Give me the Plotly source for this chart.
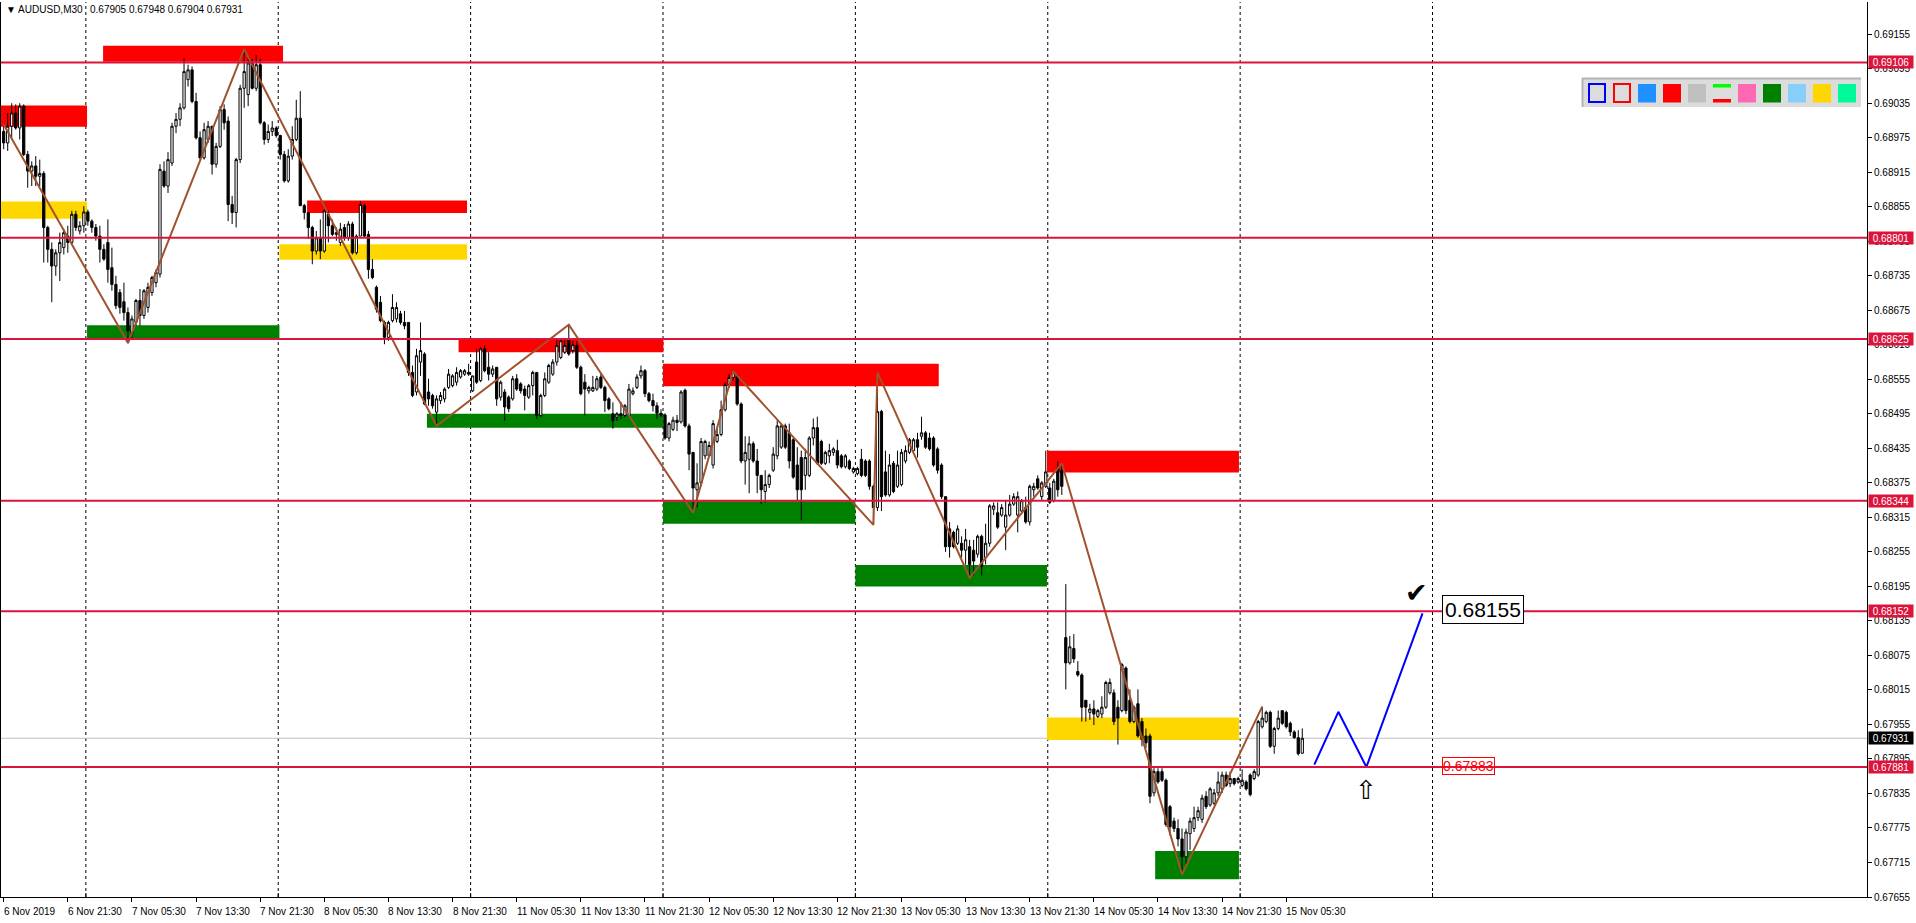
import plotly.graph_objects as go

# ---------------- data ----------------
SYMBOL = "AUDUSD,M30"
OPEN = [
    0.68986, 0.68966, 0.68995, 0.69018, 0.68992, 0.69030, 0.68946, 0.68917, 0.68926, 0.68908,
    0.68913, 0.68819, 0.68781, 0.68752, 0.68775, 0.68784, 0.68804, 0.68793, 0.68842, 0.68813,
    0.68822, 0.68846, 0.68830, 0.68819, 0.68804, 0.68781, 0.68793, 0.68749, 0.68720, 0.68706,
    0.68690, 0.68671, 0.68634, 0.68654, 0.68692, 0.68666, 0.68680, 0.68706, 0.68723, 0.68738,
    0.68917, 0.68891, 0.68931, 0.68995, 0.69007, 0.69027, 0.69076, 0.69093, 0.69038, 0.68975,
    0.68940, 0.68972, 0.68995, 0.68929, 0.68960, 0.69024, 0.69004, 0.68859, 0.68845, 0.68937,
    0.69061, 0.69050, 0.69105, 0.69061, 0.69102, 0.69001, 0.68972, 0.68986, 0.68992, 0.68979,
    0.68946, 0.68900, 0.68943, 0.68972, 0.69009, 0.68857, 0.68845, 0.68819, 0.68778, 0.68801,
    0.68778, 0.68842, 0.68822, 0.68807, 0.68793, 0.68819, 0.68801, 0.68825, 0.68775, 0.68804,
    0.68857, 0.68807, 0.68746, 0.68715, 0.68689, 0.68654, 0.68628, 0.68657, 0.68660, 0.68669,
    0.68654, 0.68654, 0.68567, 0.68533, 0.68585, 0.68599, 0.68533, 0.68527, 0.68498, 0.68518,
    0.68521, 0.68541, 0.68544, 0.68550, 0.68559, 0.68564, 0.68567, 0.68535, 0.68585, 0.68553,
    0.68608, 0.68576, 0.68564, 0.68576, 0.68524, 0.68533, 0.68524, 0.68521, 0.68556, 0.68547,
    0.68538, 0.68524, 0.68544, 0.68567, 0.68492, 0.68527, 0.68550, 0.68564, 0.68585, 0.68593,
    0.68602, 0.68625, 0.68605, 0.68614, 0.68576, 0.68550, 0.68535, 0.68535, 0.68538, 0.68559,
    0.68541, 0.68521, 0.68495, 0.68489, 0.68495, 0.68492, 0.68492, 0.68530, 0.68541, 0.68561,
    0.68570, 0.68530, 0.68518, 0.68509, 0.68496, 0.68493, 0.68453, 0.68468, 0.68484, 0.68481,
    0.68536, 0.68474, 0.68428, 0.68363, 0.68375, 0.68422, 0.68422, 0.68406, 0.68447, 0.68459,
    0.68502, 0.68546, 0.68558, 0.68561, 0.68512, 0.68413, 0.68416, 0.68443, 0.68413, 0.68388,
    0.68360, 0.68372, 0.68397, 0.68422, 0.68437, 0.68474, 0.68462, 0.68450, 0.68406, 0.68419,
    0.68388, 0.68388, 0.68453, 0.68471, 0.68447, 0.68409, 0.68422, 0.68428, 0.68431, 0.68422,
    0.68403, 0.68413, 0.68394, 0.68391, 0.68416, 0.68413, 0.68413, 0.68369, 0.68332, 0.68499,
    0.68394, 0.68354, 0.68409, 0.68369, 0.68372, 0.68413, 0.68428, 0.68431, 0.68450, 0.68456,
    0.68462, 0.68453, 0.68453, 0.68434, 0.68406, 0.68351, 0.68295, 0.68289, 0.68270, 0.68270,
    0.68258, 0.68264, 0.68258, 0.68251, 0.68282, 0.68245, 0.68270, 0.68329, 0.68323, 0.68319,
    0.68298, 0.68319, 0.68338, 0.68319, 0.68326, 0.68332, 0.68307, 0.68363, 0.68382, 0.68351,
    0.68369, 0.68366, 0.68344, 0.68400, 0.68397, 0.68106, 0.68062, 0.68087, 0.68047, 0.68041,
    0.67997, 0.67976, 0.67982, 0.67969, 0.67973, 0.67985, 0.68010, 0.68010, 0.67985, 0.67979,
    0.68053, 0.67997, 0.67960, 0.67991, 0.67960, 0.67935, 0.67935, 0.67836, 0.67873, 0.67873,
    0.67858, 0.67812, 0.67787, 0.67774, 0.67756, 0.67725, 0.67765, 0.67774, 0.67793, 0.67790,
    0.67830, 0.67815, 0.67818, 0.67836, 0.67843, 0.67867, 0.67852, 0.67861, 0.67855, 0.67849,
    0.67855, 0.67867, 0.67861, 0.67867, 0.67951, 0.67960, 0.67976, 0.67917, 0.67948, 0.67979,
    0.67976, 0.67957, 0.67942, 0.67932, 0.67905,
]
HIGH = [
    0.68995, 0.69018, 0.69035, 0.69033, 0.69035, 0.69033, 0.68952, 0.68934, 0.68943, 0.68937,
    0.68917, 0.68822, 0.68793, 0.68781, 0.68810, 0.68816, 0.68822, 0.68848, 0.68848, 0.68830,
    0.68856, 0.68850, 0.68833, 0.68825, 0.68822, 0.68790, 0.68833, 0.68784, 0.68735, 0.68712,
    0.68723, 0.68680, 0.68666, 0.68695, 0.68712, 0.68712, 0.68723, 0.68735, 0.68746, 0.68929,
    0.68934, 0.68950, 0.69001, 0.69018, 0.69035, 0.69114, 0.69102, 0.69099, 0.69053, 0.68986,
    0.69001, 0.69004, 0.68995, 0.68966, 0.69030, 0.69033, 0.69012, 0.68874, 0.68940, 0.69067,
    0.69129, 0.69114, 0.69112, 0.69119, 0.69112, 0.69004, 0.68998, 0.69004, 0.68995, 0.68980,
    0.68952, 0.68955, 0.68995, 0.69041, 0.69056, 0.68860, 0.68845, 0.68822, 0.68813, 0.68833,
    0.68850, 0.68848, 0.68833, 0.68819, 0.68827, 0.68825, 0.68830, 0.68829, 0.68807, 0.68865,
    0.68860, 0.68813, 0.68764, 0.68718, 0.68700, 0.68657, 0.68657, 0.68703, 0.68689, 0.68674,
    0.68674, 0.68654, 0.68579, 0.68608, 0.68654, 0.68602, 0.68556, 0.68530, 0.68527, 0.68533,
    0.68541, 0.68573, 0.68564, 0.68576, 0.68573, 0.68573, 0.68582, 0.68561, 0.68608, 0.68611,
    0.68614, 0.68602, 0.68579, 0.68576, 0.68553, 0.68538, 0.68527, 0.68561, 0.68564, 0.68550,
    0.68544, 0.68547, 0.68570, 0.68567, 0.68530, 0.68567, 0.68582, 0.68590, 0.68625, 0.68625,
    0.68625, 0.68650, 0.68622, 0.68622, 0.68579, 0.68564, 0.68544, 0.68561, 0.68561, 0.68564,
    0.68544, 0.68524, 0.68515, 0.68498, 0.68515, 0.68512, 0.68547, 0.68541, 0.68564, 0.68579,
    0.68573, 0.68533, 0.68530, 0.68515, 0.68503, 0.68496, 0.68481, 0.68490, 0.68493, 0.68536,
    0.68539, 0.68478, 0.68428, 0.68409, 0.68453, 0.68450, 0.68447, 0.68484, 0.68471, 0.68518,
    0.68549, 0.68564, 0.68569, 0.68564, 0.68515, 0.68456, 0.68456, 0.68447, 0.68434, 0.68388,
    0.68397, 0.68391, 0.68437, 0.68484, 0.68478, 0.68478, 0.68478, 0.68453, 0.68437, 0.68431,
    0.68434, 0.68456, 0.68487, 0.68490, 0.68450, 0.68431, 0.68443, 0.68437, 0.68450, 0.68425,
    0.68425, 0.68416, 0.68403, 0.68403, 0.68434, 0.68416, 0.68416, 0.68372, 0.68567, 0.68502,
    0.68431, 0.68425, 0.68413, 0.68431, 0.68434, 0.68440, 0.68453, 0.68453, 0.68462, 0.68490,
    0.68465, 0.68462, 0.68456, 0.68437, 0.68409, 0.68351, 0.68307, 0.68292, 0.68301, 0.68282,
    0.68295, 0.68276, 0.68276, 0.68285, 0.68285, 0.68304, 0.68338, 0.68341, 0.68341, 0.68338,
    0.68344, 0.68354, 0.68357, 0.68360, 0.68347, 0.68351, 0.68372, 0.68375, 0.68388, 0.68378,
    0.68431, 0.68375, 0.68382, 0.68413, 0.68409, 0.68199, 0.68109, 0.68112, 0.68065, 0.68044,
    0.67997, 0.67991, 0.67997, 0.67982, 0.68004, 0.68031, 0.68035, 0.68016, 0.67997, 0.68062,
    0.68056, 0.68016, 0.67988, 0.68016, 0.67966, 0.67948, 0.67939, 0.67879, 0.67879, 0.67879,
    0.67861, 0.67815, 0.67793, 0.67790, 0.67774, 0.67774, 0.67793, 0.67812, 0.67812, 0.67833,
    0.67839, 0.67846, 0.67843, 0.67873, 0.67873, 0.67873, 0.67873, 0.67861, 0.67864, 0.67877,
    0.67858, 0.67870, 0.67877, 0.67963, 0.67986, 0.67979, 0.67979, 0.67951, 0.67979, 0.67979,
    0.67979, 0.67960, 0.67945, 0.67945, 0.67948,
]
LOW = [
    0.68955, 0.68952, 0.68972, 0.68989, 0.68972, 0.68943, 0.68888, 0.68891, 0.68891, 0.68891,
    0.68758, 0.68758, 0.68689, 0.68735, 0.68726, 0.68772, 0.68775, 0.68790, 0.68813, 0.68807,
    0.68810, 0.68822, 0.68810, 0.68796, 0.68758, 0.68761, 0.68723, 0.68709, 0.68677, 0.68669,
    0.68657, 0.68618, 0.68625, 0.68648, 0.68648, 0.68660, 0.68671, 0.68700, 0.68715, 0.68732,
    0.68888, 0.68879, 0.68926, 0.68983, 0.68995, 0.69024, 0.69064, 0.69035, 0.68972, 0.68937,
    0.68937, 0.68966, 0.68911, 0.68923, 0.68957, 0.68989, 0.68830, 0.68825, 0.68819, 0.68931,
    0.69027, 0.69030, 0.69059, 0.69056, 0.68998, 0.68963, 0.68966, 0.68978, 0.68975, 0.68937,
    0.68897, 0.68897, 0.68937, 0.68969, 0.68856, 0.68833, 0.68799, 0.68755, 0.68772, 0.68764,
    0.68775, 0.68793, 0.68804, 0.68796, 0.68787, 0.68796, 0.68796, 0.68772, 0.68772, 0.68804,
    0.68801, 0.68730, 0.68729, 0.68671, 0.68654, 0.68616, 0.68622, 0.68654, 0.68654, 0.68650,
    0.68642, 0.68561, 0.68524, 0.68527, 0.68561, 0.68510, 0.68509, 0.68504, 0.68474, 0.68512,
    0.68515, 0.68538, 0.68541, 0.68544, 0.68556, 0.68561, 0.68561, 0.68533, 0.68547, 0.68550,
    0.68567, 0.68553, 0.68559, 0.68509, 0.68518, 0.68483, 0.68498, 0.68518, 0.68535, 0.68530,
    0.68501, 0.68521, 0.68527, 0.68486, 0.68489, 0.68524, 0.68547, 0.68561, 0.68579, 0.68590,
    0.68599, 0.68596, 0.68600, 0.68573, 0.68527, 0.68492, 0.68530, 0.68533, 0.68535, 0.68538,
    0.68498, 0.68501, 0.68469, 0.68483, 0.68486, 0.68489, 0.68489, 0.68527, 0.68538, 0.68556,
    0.68524, 0.68515, 0.68499, 0.68486, 0.68489, 0.68450, 0.68447, 0.68465, 0.68465, 0.68478,
    0.68471, 0.68397, 0.68323, 0.68332, 0.68369, 0.68416, 0.68419, 0.68400, 0.68444, 0.68456,
    0.68499, 0.68540, 0.68553, 0.68509, 0.68409, 0.68372, 0.68357, 0.68410, 0.68357, 0.68338,
    0.68341, 0.68366, 0.68394, 0.68416, 0.68434, 0.68434, 0.68400, 0.68382, 0.68344, 0.68310,
    0.68363, 0.68385, 0.68440, 0.68406, 0.68406, 0.68406, 0.68409, 0.68422, 0.68400, 0.68400,
    0.68400, 0.68397, 0.68391, 0.68388, 0.68385, 0.68385, 0.68363, 0.68302, 0.68326, 0.68326,
    0.68351, 0.68351, 0.68357, 0.68366, 0.68369, 0.68409, 0.68425, 0.68428, 0.68419, 0.68450,
    0.68434, 0.68431, 0.68403, 0.68391, 0.68347, 0.68255, 0.68245, 0.68261, 0.68267, 0.68245,
    0.68233, 0.68210, 0.68214, 0.68245, 0.68214, 0.68233, 0.68264, 0.68319, 0.68295, 0.68316,
    0.68258, 0.68316, 0.68335, 0.68289, 0.68323, 0.68304, 0.68301, 0.68351, 0.68363, 0.68344,
    0.68366, 0.68338, 0.68341, 0.68351, 0.68354, 0.68016, 0.68059, 0.68062, 0.68038, 0.67960,
    0.67960, 0.67963, 0.67954, 0.67966, 0.67966, 0.67982, 0.68007, 0.67954, 0.67920, 0.67976,
    0.67973, 0.67957, 0.67957, 0.67932, 0.67917, 0.67914, 0.67818, 0.67830, 0.67852, 0.67855,
    0.67777, 0.67762, 0.67768, 0.67743, 0.67694, 0.67712, 0.67737, 0.67768, 0.67787, 0.67784,
    0.67808, 0.67812, 0.67815, 0.67830, 0.67836, 0.67846, 0.67846, 0.67849, 0.67852, 0.67846,
    0.67840, 0.67830, 0.67858, 0.67864, 0.67948, 0.67957, 0.67914, 0.67904, 0.67945, 0.67954,
    0.67948, 0.67935, 0.67930, 0.67901, 0.67904,
]
CLOSE = [
    0.68966, 0.68995, 0.69018, 0.68992, 0.69030, 0.68946, 0.68917, 0.68926, 0.68908, 0.68913,
    0.68819, 0.68781, 0.68752, 0.68775, 0.68793, 0.68810, 0.68793, 0.68842, 0.68819, 0.68822,
    0.68846, 0.68830, 0.68819, 0.68804, 0.68781, 0.68764, 0.68746, 0.68720, 0.68683, 0.68680,
    0.68671, 0.68639, 0.68660, 0.68692, 0.68666, 0.68709, 0.68715, 0.68732, 0.68741, 0.68920,
    0.68891, 0.68937, 0.68995, 0.69007, 0.69027, 0.69090, 0.69093, 0.69038, 0.68975, 0.68940,
    0.68989, 0.68995, 0.68929, 0.68960, 0.69024, 0.69001, 0.68859, 0.68845, 0.68937, 0.69061,
    0.69090, 0.69105, 0.69061, 0.69102, 0.69001, 0.68972, 0.68986, 0.68992, 0.68979, 0.68946,
    0.68900, 0.68943, 0.68972, 0.69009, 0.68857, 0.68845, 0.68819, 0.68778, 0.68801, 0.68778,
    0.68848, 0.68822, 0.68807, 0.68810, 0.68816, 0.68801, 0.68825, 0.68775, 0.68804, 0.68859,
    0.68804, 0.68746, 0.68732, 0.68677, 0.68657, 0.68628, 0.68654, 0.68680, 0.68680, 0.68654,
    0.68648, 0.68567, 0.68527, 0.68596, 0.68605, 0.68512, 0.68521, 0.68509, 0.68521, 0.68527,
    0.68538, 0.68564, 0.68561, 0.68567, 0.68570, 0.68570, 0.68564, 0.68561, 0.68550, 0.68608,
    0.68570, 0.68564, 0.68573, 0.68521, 0.68550, 0.68507, 0.68504, 0.68556, 0.68538, 0.68535,
    0.68527, 0.68544, 0.68567, 0.68492, 0.68527, 0.68556, 0.68579, 0.68585, 0.68614, 0.68622,
    0.68614, 0.68599, 0.68615, 0.68576, 0.68530, 0.68538, 0.68541, 0.68541, 0.68556, 0.68541,
    0.68518, 0.68504, 0.68483, 0.68495, 0.68492, 0.68509, 0.68538, 0.68535, 0.68559, 0.68570,
    0.68530, 0.68518, 0.68509, 0.68496, 0.68493, 0.68453, 0.68478, 0.68484, 0.68480, 0.68533,
    0.68474, 0.68425, 0.68366, 0.68375, 0.68447, 0.68447, 0.68440, 0.68478, 0.68459, 0.68502,
    0.68546, 0.68558, 0.68567, 0.68512, 0.68413, 0.68428, 0.68443, 0.68413, 0.68388, 0.68363,
    0.68372, 0.68388, 0.68425, 0.68474, 0.68474, 0.68437, 0.68413, 0.68385, 0.68363, 0.68363,
    0.68419, 0.68453, 0.68471, 0.68409, 0.68409, 0.68428, 0.68431, 0.68434, 0.68406, 0.68403,
    0.68422, 0.68400, 0.68400, 0.68400, 0.68388, 0.68388, 0.68369, 0.68332, 0.68499, 0.68351,
    0.68354, 0.68406, 0.68360, 0.68406, 0.68428, 0.68431, 0.68450, 0.68450, 0.68437, 0.68462,
    0.68437, 0.68434, 0.68406, 0.68397, 0.68351, 0.68264, 0.68264, 0.68264, 0.68295, 0.68258,
    0.68276, 0.68233, 0.68239, 0.68282, 0.68230, 0.68270, 0.68335, 0.68335, 0.68298, 0.68332,
    0.68319, 0.68338, 0.68351, 0.68351, 0.68344, 0.68307, 0.68369, 0.68369, 0.68366, 0.68375,
    0.68394, 0.68341, 0.68378, 0.68363, 0.68369, 0.68062, 0.68090, 0.68069, 0.68041, 0.67985,
    0.67985, 0.67982, 0.67973, 0.67979, 0.67985, 0.68028, 0.68028, 0.67960, 0.67966, 0.68059,
    0.67979, 0.67960, 0.67985, 0.67935, 0.67929, 0.67923, 0.67830, 0.67873, 0.67855, 0.67858,
    0.67781, 0.67777, 0.67774, 0.67756, 0.67725, 0.67768, 0.67787, 0.67793, 0.67805, 0.67827,
    0.67812, 0.67843, 0.67836, 0.67855, 0.67867, 0.67849, 0.67861, 0.67852, 0.67861, 0.67858,
    0.67843, 0.67833, 0.67873, 0.67960, 0.67966, 0.67976, 0.67917, 0.67948, 0.67966, 0.67957,
    0.67951, 0.67942, 0.67932, 0.67904, 0.67931,
]
BAR_INDEX = list(range(len(CLOSE)))

# time-axis labels (bar index -> text)
LABEL_IDX = [0, 16, 32, 48, 64, 80, 96, 112, 128, 144, 160, 176, 192, 208, 224, 240, 256, 272, 288, 304, 320]
LABEL_TEXT = ["6 Nov 2019", "6 Nov 21:30", "7 Nov 05:30", "7 Nov 13:30", "7 Nov 21:30",
              "8 Nov 05:30", "8 Nov 13:30", "8 Nov 21:30", "11 Nov 05:30", "11 Nov 13:30",
              "11 Nov 21:30", "12 Nov 05:30", "12 Nov 13:30", "12 Nov 21:30", "13 Nov 05:30",
              "13 Nov 13:30", "13 Nov 21:30", "14 Nov 05:30", "14 Nov 13:30", "14 Nov 21:30",
              "15 Nov 05:30"]
DAY_SEPARATORS = [20.5, 68.5, 116.5, 164.5, 212.5, 260.5, 308.5, 356.5]

# price axis
PRICE_TICKS = [0.67655 + 0.0006 * k for k in range(26)]
LEVELS = [0.69106, 0.68801, 0.68625, 0.68344, 0.68152, 0.67881]
BID = 0.67931
HEADER_OHLC = "0.67905 0.67948 0.67904 0.67931"

# zones: start bar, end bar, low, high, kind
ZONE_X0 = [-0.7, 24.8, -0.7, 20.8, 75.7, 68.8, 113.5, 105.6, 164.5, 164.5, 212.5, 260.3, 260.3, 287.3]
ZONE_X1 = [20.8, 69.7, 20.8, 68.8, 115.6, 115.6, 164.6, 164.6, 233.3, 212.5, 260.3, 308.2, 308.2, 308.2]
ZONE_LO = [0.68994, 0.69107, 0.68834, 0.68627, 0.68844, 0.68763, 0.68602, 0.68471, 0.68543, 0.68304,
           0.68195, 0.68393, 0.67928, 0.67686]
ZONE_HI = [0.69031, 0.69135, 0.68864, 0.68649, 0.68866, 0.68790, 0.68624, 0.68495, 0.68582, 0.68343,
           0.68232, 0.68431, 0.67967, 0.67735]
ZONE_KIND = ["supply", "supply", "mid", "demand", "supply", "mid", "supply", "demand", "supply",
             "demand", "demand", "supply", "mid", "demand"]

# zigzag swing points
ZZ_X = [0, 31, 60, 108, 141, 172, 182, 217, 218, 241, 264, 294, 314]
ZZ_Y = [0.68998, 0.68618, 0.69129, 0.68474, 0.68650, 0.68323, 0.68569, 0.68302, 0.68567, 0.68210,
        0.68409, 0.67694, 0.67986]

# projected path
PROJ_X = [327, 333, 340, 354]
PROJ_Y = [0.67885, 0.67977, 0.67881, 0.68148]
TARGET_PRICE = 0.68155
ENTRY_PRICE = 0.67883

# ---------------- layout helpers ----------------
W, H = 1916, 923
ML, MR, MT, MB = 1, 49, 2, 26
PW, PH = W - ML - MR, H - MT - MB
FONT = "Liberation Sans, Arial, sans-serif"


def px(x):
    return (x - ML) / PW


def py(y):
    return 1 - (y - MT) / PH


ZONE_COLORS = {"supply": "#FF0000", "demand": "#008000", "mid": "#FFD700"}

fig = go.Figure()

fig.add_trace(go.Candlestick(
    x=BAR_INDEX, open=OPEN, high=HIGH, low=LOW, close=CLOSE,
    increasing=dict(line=dict(color="black", width=1), fillcolor="white"),
    decreasing=dict(line=dict(color="black", width=1), fillcolor="black"),
    whiskerwidth=0, hoverinfo="skip", showlegend=False,
))
fig.add_trace(go.Scatter(x=ZZ_X, y=ZZ_Y, mode="lines", line=dict(color="#A0522D", width=2),
                         hoverinfo="skip", showlegend=False))
fig.add_trace(go.Scatter(x=PROJ_X, y=PROJ_Y, mode="lines", line=dict(color="#0000FF", width=2),
                         hoverinfo="skip", showlegend=False))

shapes = []
for x0, x1, lo, hi, kind in zip(ZONE_X0, ZONE_X1, ZONE_LO, ZONE_HI, ZONE_KIND):
    shapes.append(dict(type="rect", xref="x", yref="y", x0=x0, x1=x1, y0=lo, y1=hi,
                       fillcolor=ZONE_COLORS[kind], line=dict(width=0), layer="below"))
for s in DAY_SEPARATORS:
    shapes.append(dict(type="line", xref="x", yref="paper", x0=s, x1=s, y0=0, y1=1,
                       line=dict(color="black", width=1, dash="3px,3px"), layer="below"))
    shapes.append(dict(type="line", xref="x", yref="paper", x0=s, x1=s, y0=0, y1=4 / PH,
                       line=dict(color="black", width=1), layer="above"))
shapes.append(dict(type="line", xref="paper", yref="y", x0=0, x1=1, y0=BID, y1=BID,
                   line=dict(color="#C0C0C0", width=1), layer="below"))
for lv in LEVELS:
    shapes.append(dict(type="line", xref="paper", yref="y", x0=0, x1=1, y0=lv, y1=lv,
                       line=dict(color="#DC143C", width=2), layer="above"))

# colour toolbar (top right)
shapes.append(dict(type="rect", xref="paper", yref="paper", x0=px(1582), x1=px(1861),
                   y0=py(107), y1=py(78), fillcolor="#DCDCDC", line=dict(width=0), layer="above"))
shapes.append(dict(type="line", xref="paper", yref="paper", x0=px(1582), x1=px(1861),
                   y0=py(78.5), y1=py(78.5), line=dict(color="#B4B4B4", width=2), layer="above"))
shapes.append(dict(type="line", xref="paper", yref="paper", x0=px(1582.5), x1=px(1582.5),
                   y0=py(107), y1=py(78), line=dict(color="#B4B4B4", width=2), layer="above"))
SWATCHES = ["outline_blue", "outline_red", "#1E90FF", "#FF0000", "#C0C0C0", "lines",
            "#FF69B4", "#008000", "#87CEFA", "#FFD700", "#00FA9A"]
for k, sw in enumerate(SWATCHES):
    x0 = 1588 + 25 * k
    x1 = x0 + 18
    if sw == "outline_blue":
        shapes.append(dict(type="rect", xref="paper", yref="paper", x0=px(x0 + 1), x1=px(x1 - 1),
                           y0=py(102), y1=py(84), fillcolor="#DCDCDC",
                           line=dict(color="#0000FF", width=2), layer="above"))
    elif sw == "outline_red":
        shapes.append(dict(type="rect", xref="paper", yref="paper", x0=px(x0 + 1), x1=px(x1 - 1),
                           y0=py(102), y1=py(84), fillcolor="#DCDCDC",
                           line=dict(color="#FF0000", width=2), layer="above"))
    elif sw == "lines":
        shapes.append(dict(type="rect", xref="paper", yref="paper", x0=px(x0), x1=px(x1),
                           y0=py(87.5), y1=py(84), fillcolor="#00FF00", line=dict(width=0), layer="above"))
        shapes.append(dict(type="rect", xref="paper", yref="paper", x0=px(x0), x1=px(x1),
                           y0=py(102.5), y1=py(99), fillcolor="#FF0000", line=dict(width=0), layer="above"))
    else:
        shapes.append(dict(type="rect", xref="paper", yref="paper", x0=px(x0), x1=px(x1),
                           y0=py(102.5), y1=py(84), fillcolor=sw, line=dict(width=0), layer="above"))

annotations = []
for idx, txt in zip(LABEL_IDX, LABEL_TEXT):
    annotations.append(dict(x=idx, xref="x", y=py(911), yref="paper", text=txt, showarrow=False,
                            xanchor="left", yanchor="middle", xshift=-2,
                            font=dict(family=FONT, size=10, color="black")))
for lv in LEVELS:
    annotations.append(dict(x=1, xref="paper", y=lv, yref="y", text=f"{lv:.5f}", showarrow=False,
                            xanchor="left", yanchor="middle", xshift=1, bgcolor="#DC143C",
                            font=dict(family=FONT, size=10, color="white"), width=44, height=12,
                            borderpad=0))
annotations.append(dict(x=1, xref="paper", y=BID, yref="y", text=f"{BID:.5f}", showarrow=False,
                        xanchor="left", yanchor="middle", xshift=1, bgcolor="black",
                        font=dict(family=FONT, size=10, color="white"), width=44, height=12,
                        borderpad=0))
annotations.append(dict(x=px(4), xref="paper", y=py(9), yref="paper",
                        text="\u25BC " + SYMBOL, showarrow=False, xanchor="left", yanchor="middle",
                        font=dict(family=FONT, size=10, color="black")))
annotations.append(dict(x=px(88), xref="paper", y=py(9), yref="paper",
                        text=HEADER_OHLC, showarrow=False, xanchor="left", yanchor="middle",
                        font=dict(family=FONT, size=10, color="black")))
annotations.append(dict(x=358.9, xref="x", y=TARGET_PRICE, yref="y", text=f"{TARGET_PRICE:.5f}",
                        showarrow=False, xanchor="left", yanchor="middle", bgcolor="white",
                        bordercolor="black", borderwidth=1, borderpad=2,
                        font=dict(family=FONT, size=21, color="black")))
annotations.append(dict(x=358.9, xref="x", y=ENTRY_PRICE, yref="y", text=f"{ENTRY_PRICE:.5f}",
                        showarrow=False, xanchor="left", yanchor="middle",
                        bordercolor="#FF0000", borderwidth=1, borderpad=0,
                        font=dict(family=FONT, size=14, color="#FF0000")))
annotations.append(dict(x=352.4, xref="x", y=0.68185, yref="y", text="\u2714",
                        showarrow=False, xanchor="center", yanchor="middle",
                        font=dict(family="DejaVu Sans", size=27, color="black")))
annotations.append(dict(x=339.9, xref="x", y=0.67841, yref="y", text="\u21E7",
                        showarrow=False, xanchor="center", yanchor="middle",
                        font=dict(family="DejaVu Sans", size=26, color="black")))

fig.update_layout(
    width=W, height=H, autosize=False,
    margin=dict(l=ML, r=MR, t=MT, b=MB, pad=0),
    paper_bgcolor="white", plot_bgcolor="white",
    showlegend=False, shapes=shapes, annotations=annotations,
    boxgap=0.2,
    font=dict(family=FONT, size=10, color="black"),
    xaxis=dict(range=[-0.67, 464.9], showgrid=False, zeroline=False, showline=True,
               linecolor="black", linewidth=1, ticks="outside", tickvals=LABEL_IDX, ticklen=4,
               tickcolor="black", showticklabels=False, rangeslider=dict(visible=False),
               fixedrange=True),
    yaxis=dict(range=[0.67655, 0.69211], side="right", showgrid=False, zeroline=False,
               showline=True, mirror=True, linecolor="black", linewidth=1, ticks="outside",
               ticklen=4, tickcolor="black", tickvals=PRICE_TICKS,
               ticktext=[f"{v:.5f}" for v in PRICE_TICKS],
               tickfont=dict(family=FONT, size=10, color="black"), fixedrange=True),
)

fig.write_html("out.html", config={"displayModeBar": False},
               post_script="document.body.style.margin='0px';")
